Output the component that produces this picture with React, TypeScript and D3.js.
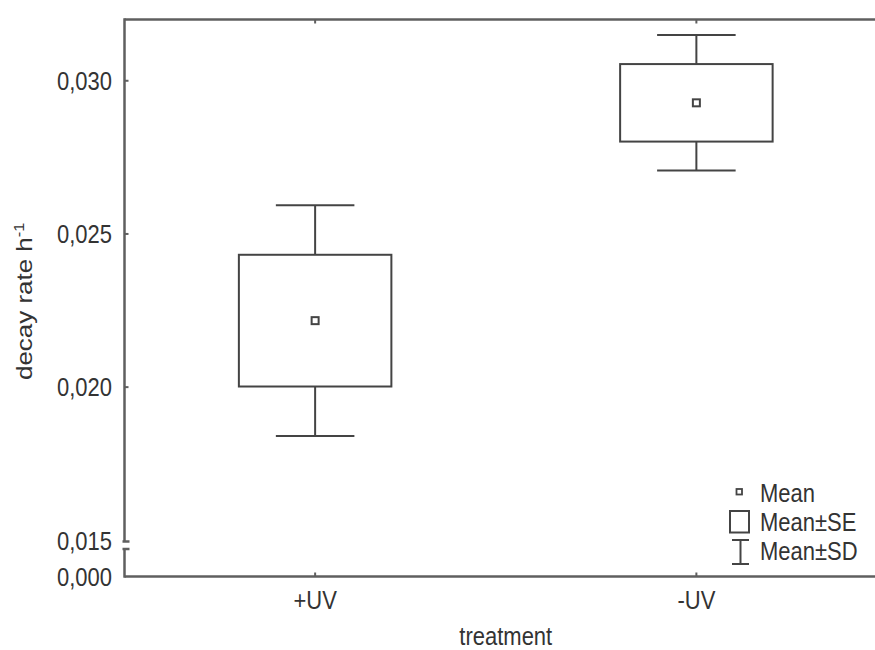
import React from "react";
import * as d3 from "d3";

const categories = ["+UV", "-UV"];
const means = [0.02217, 0.02928];
const seValues = [0.00215, 0.001265];
const sdValues = [0.003765, 0.00221];
const yTicks = [0.015, 0.02, 0.025, 0.03];
const bottomTickLabel = "0,000";
const legendItems = ["Mean", "Mean\u00B1SE", "Mean\u00B1SD"];
const xTitle = "treatment";
const yTitle = "decay rate h";
const yTitleSup = "-1";

const W = 875;
const H = 650;
const FONT = "'Liberation Sans', Arial, Helvetica, sans-serif";
const FS = 22;
const SY = 1.18;
const TEXT = "#333";
const LINE = "#444";
const FRAME = "#5f5f5f";

const left = 124.5;
const right = 887;
const top = 19.5;
const axisY = 576.5;
const breakTop = 541.5;
const breakBottom = 549;

const fmt = d3.formatLocale({ decimal: ",", thousands: ".", grouping: [3], currency: ["", ""] }).format(".3f");

function T({ x, y, anchor = "start", rotate = false, children, size = FS }: any) {
  const tr = `translate(${x},${y}) scale(1,${SY})${rotate ? " rotate(-90)" : ""}`;
  return (
    <text transform={tr} textAnchor={anchor} fontFamily={FONT} fontSize={size} fill={TEXT}>
      {children}
    </text>
  );
}

export default function App() {
  const y = d3.scaleLinear().domain([0.015, 0.032]).range([540.3, top]);
  const x = d3.scalePoint<string>().domain(categories).range([left, right]).padding(0.5);
  const step = x.step();
  const boxHalf = step * 0.2;
  const capHalf = step * 0.103;
  const capOff = (FS * 0.716 * SY) / 2;

  return (
    <svg width={W} height={H} style={{ position: "absolute", left: 0, top: 0, background: "#fff" }}>
      <rect x={0} y={0} width={W} height={H} fill="#fff" />
      {/* frame */}
      <g stroke={FRAME} strokeWidth={2.5} fill="none">
        <line x1={left} x2={right} y1={top} y2={top} />
        <line x1={left} x2={right} y1={axisY} y2={axisY} />
        <line x1={right} x2={right} y1={top} y2={axisY} />
        <line x1={left} x2={left} y1={top - 1.2} y2={breakTop} />
        <line x1={left} x2={left} y1={breakBottom} y2={axisY + 1.2} />
        <line x1={left - 2} x2={left + 5} y1={breakTop} y2={breakTop} />
        <line x1={left - 2} x2={left + 5} y1={breakBottom} y2={breakBottom} />
      </g>
      {/* ticks */}
      <g stroke={FRAME} strokeWidth={2}>
        {yTicks
          .filter((t) => t > 0.015)
          .map((t) => (
            <line key={t} x1={left} x2={left + 4} y1={y(t)} y2={y(t)} />
          ))}
        {categories.map((c) => (
          <g key={c}>
            <line x1={x(c)} x2={x(c)} y1={top} y2={top + 4} />
            <line x1={x(c)} x2={x(c)} y1={axisY} y2={axisY - 4} />
          </g>
        ))}
      </g>
      {/* y tick labels */}
      {yTicks.map((t) => (
        <T key={t} x={112} y={y(t) + capOff} anchor="end">
          {fmt(t)}
        </T>
      ))}
      <T x={112} y={axisY + capOff} anchor="end">
        {bottomTickLabel}
      </T>
      {/* x tick labels */}
      {categories.map((c) => (
        <T key={c} x={x(c)} y={600 + capOff} anchor="middle">
          {c}
        </T>
      ))}
      <T x={(left + right) / 2} y={645} anchor="middle">
        {xTitle}
      </T>
      <T x={32} y={380} rotate>
        {yTitle}
        <tspan fontSize={14} dy={-8}>
          {yTitleSup}
        </tspan>
      </T>
      {/* boxes */}
      <g stroke={LINE} strokeWidth={2} fill="none">
        {categories.map((c, i) => {
          const cx = x(c) as number;
          const m = means[i];
          return (
            <g key={c}>
              <line x1={cx} x2={cx} y1={y(m + sdValues[i])} y2={y(m + seValues[i])} />
              <line x1={cx} x2={cx} y1={y(m - seValues[i])} y2={y(m - sdValues[i])} />
              <line x1={cx - capHalf} x2={cx + capHalf} y1={y(m + sdValues[i])} y2={y(m + sdValues[i])} />
              <line x1={cx - capHalf} x2={cx + capHalf} y1={y(m - sdValues[i])} y2={y(m - sdValues[i])} />
              <rect
                x={cx - boxHalf}
                y={y(m + seValues[i])}
                width={boxHalf * 2}
                height={y(m - seValues[i]) - y(m + seValues[i])}
              />
              <rect x={cx - 3.5} y={y(m) - 3.5} width={7} height={7} />
            </g>
          );
        })}
      </g>
      {/* legend */}
      <g stroke={LINE} fill="none">
        <rect x={736.5} y={489} width={5.5} height={5.5} strokeWidth={1.8} />
        <rect x={730} y={511} width={19} height={21.5} strokeWidth={2} />
        <line x1={740.5} x2={740.5} y1={540} y2={564} strokeWidth={2} />
        <line x1={732} x2={749} y1={540} y2={540} strokeWidth={2} />
        <line x1={732} x2={749} y1={564} y2={564} strokeWidth={2} />
      </g>
      {legendItems.map((l, i) => (
        <T key={l} x={760} y={[493, 522, 551][i] + capOff}>
          {l}
        </T>
      ))}
    </svg>
  );
}
